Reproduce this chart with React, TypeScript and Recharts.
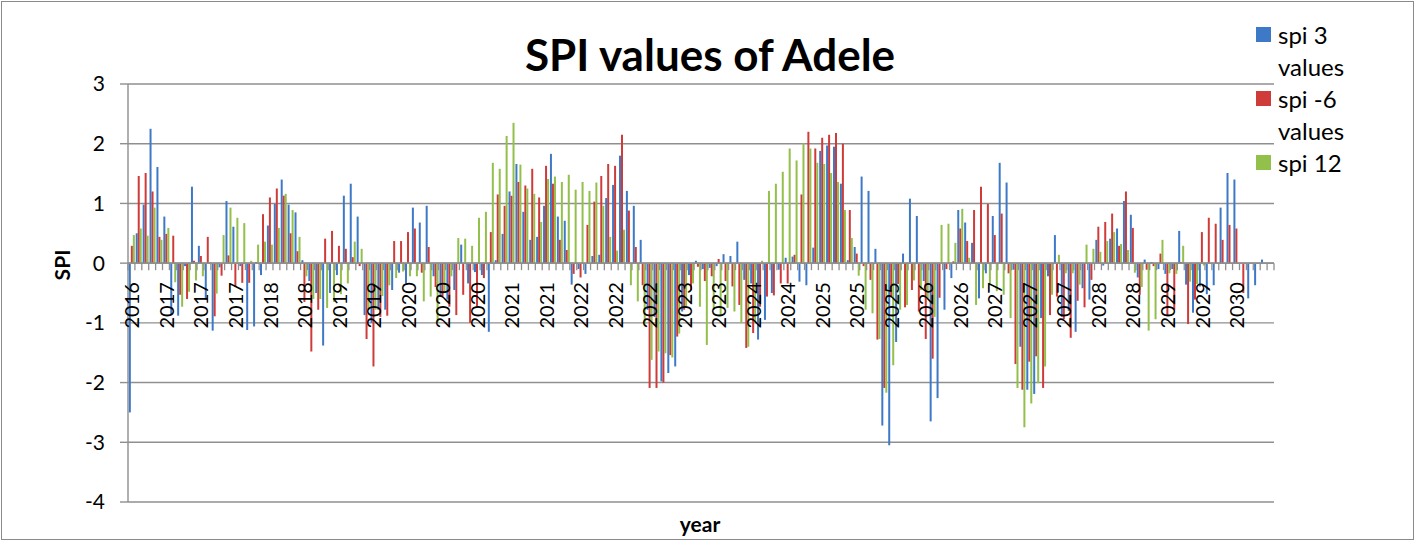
import React from 'react';
import { BarChart, Bar, XAxis, YAxis, CartesianGrid, ReferenceLine } from 'recharts';

// ---- data ----
const tickLabels = [
  '2016', '2017', '2017', '2017', '2018', '2018', '2019', '2019', '2020', '2020', '2020',
  '2021', '2021', '2022', '2022', '2022', '2023', '2023', '2024', '2024', '2025', '2025',
  '2025', '2026', '2026', '2027', '2027', '2027', '2028', '2028', '2029', '2029', '2030',
];
const LABEL_STEP = 5;

const spi3: (number | null)[] = [
  -2.5, 0.5, 0.98, 2.25, 1.61, 0.78, -0.87, -0.88, -0.05, 1.28,
  0.29, -0.61, -1.13, -0.07, 1.04, 0.61, -0.05, -1.12, -1.06, -0.2,
  0.63, 0.99, 1.4, 0.98, 0.85, 0.05, -0.3, -0.5, -1.38, -0.5,
  -0.2, 1.13, 1.33, 0.78, -0.87, -1.0, -0.78, -0.78, -0.45, -0.16,
  -0.34, 0.93, 0.68, 0.96, -0.22, -0.56, -0.61, -0.45, 0.31, -0.34,
  -0.15, -0.2, -1.15, 0.05, 0.49, 1.2, 1.66, 0.86, 0.39, 0.44,
  0.96, 1.83, 0.78, 0.71, -0.36, -0.1, -0.18, 0.12, 0.14, 1.09,
  1.31, 1.8, 1.21, 0.96, 0.39, -0.78, -0.9, -1.98, -1.84, -1.73,
  -0.81, -0.2, 0.04, -0.1, -0.08, -0.05, 0.15, 0.12, 0.36, -0.28,
  -0.34, -1.28, -0.95, -0.5, -0.11, 0.09, 0.11, -0.31, -0.37, 0.26,
  1.88, 1.97, 1.95, 1.33, 0.05, 0.27, 1.45, 1.21, 0.24, -2.72,
  -3.05, -1.32, 0.16, 1.08, 0.79, -0.3, -2.65, -2.26, -0.78, -0.25,
  0.89, 0.68, 0.34, -0.59, -0.17, 0.79, 1.68, 1.35, -0.11, -1.4,
  -2.12, -2.19, -0.92, -0.22, 0.47, -0.9, -0.8, -1.15, -0.42, -0.61,
  0.39, -0.04, 0.41, 0.58, 1.04, 0.81, -0.24, 0.06, 0.02, -0.1,
  -0.18, -0.1, 0.54, -0.36, -0.83, -0.39, -0.52, -0.37, 0.93, 1.51,
  1.4, null, -0.59, -0.37, 0.06, null,
];

const spi6: (number | null)[] = [
  0.29, 1.46, 1.51, 1.2, 0.44, 0.49, 0.46, -0.53, -0.6, 0.04,
  0.12, 0.44, -0.89, -0.21, 0.13, -0.4, -0.33, -0.33, 0.02, 0.82,
  1.1, 1.25, 1.13, 0.5, 0.2, -0.65, -1.48, -0.78, 0.41, 0.54,
  0.29, 0.24, 0.1, -0.05, -1.27, -1.73, -0.9, -0.88, 0.37, 0.37,
  0.52, 0.58, -0.16, 0.27, -0.4, -0.56, -0.73, -0.87, -0.53, -1.0,
  -0.73, -0.25, 0.52, 1.15, 0.96, 1.13, 1.36, 1.3, 1.58, 1.1,
  1.63, 1.33, 0.39, 0.22, -0.18, -0.24, 0.64, 1.03, 1.46, 1.66,
  1.63, 2.15, 0.88, 0.27, -0.37, -2.09, -2.09, -2.0, -1.54, -1.23,
  -0.78, -0.45, -0.06, -0.3, -0.22, 0.07, -0.3, -0.39, -0.7, -1.42,
  -1.17, -0.73, -0.56, -0.54, -0.34, -0.34, 0.14, 1.15, 2.2, 1.92,
  2.1, 2.15, 2.18, 2.0, 0.89, 0.16, -0.05, -0.28, -1.28, -2.09,
  -0.56, -0.35, -0.74, -0.45, -0.81, -1.27, -1.6, -0.58, -0.1, 0.03,
  0.58, 0.37, 0.89, 1.28, 0.99, 0.47, 0.83, -0.17, -1.69, -2.12,
  -1.65, -1.56, -2.09, -0.87, -0.56, -0.94, -1.25, -0.63, -0.74, -0.28,
  0.61, 0.69, 0.83, 0.29, 1.2, 0.59, -0.53, -0.11, -0.05, 0.16,
  -0.87, -0.78, 0.02, -1.02, -0.61, 0.52, 0.76, 0.66, 0.39, 0.64,
  0.58, -0.5, null, null, null, null,
];

const spi12: (number | null)[] = [
  0.47, 0.58, 0.46, 0.93, 0.39, 0.59, -0.32, -0.73, -0.48, -0.29,
  -0.22, 0.02, -0.51, 0.47, 0.93, 0.76, 0.67, 0.04, 0.31, 0.36,
  0.31, 0.59, 1.16, 0.89, 0.44, -0.22, -0.6, -0.6, -0.75, -0.65,
  -0.52, -0.34, 0.36, 0.24, -0.78, -0.78, -0.55, -0.37, -0.25, -0.14,
  -0.22, -0.22, -0.64, -0.56, -1.0, -0.47, -0.22, 0.42, 0.41, 0.29,
  0.76, 0.86, 1.68, 1.58, 2.13, 2.35, 1.65, 1.25, 1.16, 0.69,
  1.41, 1.45, 1.36, 1.48, 1.23, 1.36, 1.21, 1.35, 0.96, 0.44,
  0.21, 0.56, -0.37, -0.64, -1.03, -1.62, -1.48, -1.51, -1.58, -1.18,
  -0.73, -0.34, -0.73, -1.37, -0.78, -0.89, -0.75, -0.81, -1.0, -1.4,
  -1.0, 0.04, 1.21, 1.33, 1.53, 1.92, 1.72, 2.01, 1.92, 1.68,
  1.66, 1.51, 1.36, 0.89, 0.42, -0.21, -0.78, -0.84, -1.27, -2.17,
  -1.71, -0.78, -0.7, -0.29, -0.45, -0.6, -0.9, 0.64, 0.66, 0.34,
  0.91, 0.09, -0.7, -0.42, -0.34, -0.47, -0.53, -0.92, -2.09, -2.75,
  -2.35, -2.01, -1.73, -0.53, 0.14, -0.17, -0.17, -0.36, 0.31, 0.24,
  0.19, 0.37, 0.52, 0.32, 0.22, -0.16, -0.4, -1.13, -0.94, 0.39,
  -0.17, -0.18, 0.29, -0.31, -0.35, -0.04, null, null, null, null,
  null, null, null, null, null, null,
];

const seriesNames = ['spi 3 values', 'spi -6 values', 'spi 12'];
const seriesKeys = ['b', 'r', 'g'];
const seriesColors = ['#3D79C7', '#CE3B38', '#93BF4B'];
const yTicks = [-4, -3, -2, -1, 0, 1, 2, 3];
const Y_MIN = -4;
const Y_MAX = 3;

const data = spi3.map((v, i) => ({ idx: i, b: v, r: spi6[i], g: spi12[i] }));
const N = data.length;

// ---- layout ----
const W = 1420;
const H = 543;
const PLOT_LEFT = 128;
const PLOT_RIGHT = 1274;
const PLOT_TOP = 84;
const PLOT_BOTTOM = 502;
const YAXIS_W = 60;
const XAXIS_H = 2;
const FONT = 'Lato, "Open Sans", sans-serif';
const GRID = '#8f8f8f';

const zeroY = PLOT_TOP + ((PLOT_BOTTOM - PLOT_TOP) * Y_MAX) / (Y_MAX - Y_MIN);
const catW = (PLOT_RIGHT - PLOT_LEFT) / N;

const renderXTick = (props: any) => {
  const { x, payload, index } = props;
  const i = Number(payload && payload.value != null ? payload.value : index);
  const tx = x - catW / 2;
  const ly = zeroY + 19;
  const label = i % LABEL_STEP === 0 ? tickLabels[i / LABEL_STEP] : undefined;
  return (
    <g key={`xt-${i}`}>
      <line x1={tx} x2={tx} y1={zeroY} y2={zeroY + 7} stroke={GRID} strokeWidth={1.3} />
      {i === N - 1 && (
        <line x1={x + catW / 2} x2={x + catW / 2} y1={zeroY} y2={zeroY + 7} stroke={GRID} strokeWidth={1.3} />
      )}
      {label && (
        <text
          x={x}
          y={ly}
          transform={`rotate(-90 ${x} ${ly})`}
          textAnchor="end"
          dominantBaseline="central"
          fontSize={20}
          fontFamily={FONT}
          fill="#000"
        >
          {label}
        </text>
      )}
    </g>
  );
};

export default function App() {
  return (
    <div style={{ position: 'absolute', left: 0, top: 0, width: W, height: H, background: '#fff' }}>
      <div
        style={{
          position: 'absolute',
          left: 1,
          top: 1,
          width: 1413,
          height: 539,
          border: '1.5px solid #8a8a8a',
          boxSizing: 'border-box',
        }}
      />
      <BarChart
        width={W}
        height={H}
        data={data}
        margin={{
          top: PLOT_TOP,
          right: W - PLOT_RIGHT,
          bottom: H - PLOT_BOTTOM - XAXIS_H,
          left: PLOT_LEFT - YAXIS_W,
        }}
        barCategoryGap="12%"
        barGap={0}
      >
        <CartesianGrid vertical={false} stroke={GRID} strokeWidth={1.4} />
        <XAxis
          dataKey="idx"
          type="category"
          height={XAXIS_H}
          interval={0}
          axisLine={false}
          tickLine={false}
          tick={renderXTick}
        />
        <YAxis
          width={YAXIS_W}
          domain={[Y_MIN, Y_MAX]}
          ticks={yTicks}
          interval={0}
          allowDataOverflow
          axisLine={{ stroke: GRID, strokeWidth: 1.4 }}
          tickLine={{ stroke: GRID, strokeWidth: 1.4 }}
          tickSize={8}
          tickMargin={15}
          tick={{ fill: '#000', fontSize: 21, fontFamily: FONT }}
        />
        <ReferenceLine y={0} stroke={GRID} strokeWidth={1.6} />
        {seriesKeys.map((k, j) => (
          <Bar key={k} dataKey={k} name={seriesNames[j]} fill={seriesColors[j]} isAnimationActive={false} />
        ))}
      </BarChart>

      {/* title */}
      <div
        style={{
          position: 'absolute',
          left: 0,
          top: 28,
          width: W,
          textAlign: 'center',
          fontFamily: FONT,
          fontWeight: 700,
          fontSize: 44,
          lineHeight: '52px',
          color: '#000',
        }}
      >
        SPI values of Adele
      </div>

      {/* y axis title */}
      <div
        style={{
          position: 'absolute',
          left: 61,
          top: 265,
          transform: 'translate(-50%, -50%) rotate(-90deg)',
          fontFamily: FONT,
          fontWeight: 700,
          fontSize: 21,
          whiteSpace: 'nowrap',
        }}
      >
        SPI
      </div>

      {/* x axis title */}
      <div
        style={{
          position: 'absolute',
          left: 700,
          top: 523,
          transform: 'translate(-50%, -50%)',
          fontFamily: FONT,
          fontWeight: 700,
          fontSize: 21,
          whiteSpace: 'nowrap',
        }}
      >
        year
      </div>

      {/* legend */}
      <div style={{ position: 'absolute', left: 1256, top: 19, fontFamily: FONT, fontSize: 24, lineHeight: '32px' }}>
        {seriesNames.map((n, k) => (
          <div key={n} style={{ display: 'flex', alignItems: 'flex-start' }}>
            <span
              style={{
                display: 'inline-block',
                width: 15,
                height: 15,
                marginTop: 8,
                marginRight: 7,
                background: seriesColors[k],
                flex: 'none',
              }}
            />
            <span style={{ width: 84 }}>{n}</span>
          </div>
        ))}
      </div>
    </div>
  );
}
